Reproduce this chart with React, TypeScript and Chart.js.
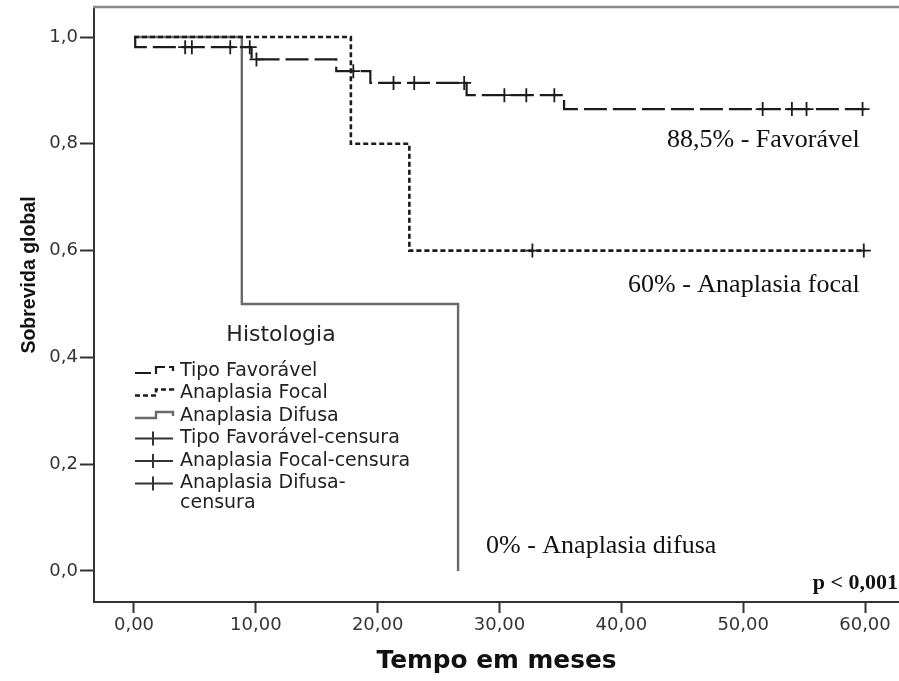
import React, { useEffect, useRef } from 'react';
import { Chart, registerables } from 'chart.js';

Chart.register(...registerables);

// ---- Data ----
const favoravelTimes = [0, 0.1, 9.65, 16.6, 19.4, 27.3, 35.3, 60];
const favoravelSurv = [1.0, 0.981, 0.958, 0.936, 0.914, 0.891, 0.865, 0.865];

const focalTimes = [0, 17.8, 22.6, 60];
const focalSurv = [1.0, 0.8, 0.6, 0.6];

const difusaTimes = [0, 8.85, 26.6];
const difusaSurv = [1.0, 0.5, 0.0];

const favoravelCensorTimes = [4.2, 4.75, 7.9, 9.5, 10.05, 18.0, 21.3, 23.0, 27.1, 30.4, 32.2, 34.5, 51.6, 54.0, 55.2, 59.8];
const favoravelCensorSurv = [0.981, 0.981, 0.981, 0.981, 0.958, 0.936, 0.914, 0.914, 0.914, 0.891, 0.891, 0.891, 0.865, 0.865, 0.865, 0.865];

const focalCensorTimes = [32.7, 59.9];
const focalCensorSurv = [0.6, 0.6];

const difusaCensorTimes: number[] = [];
const difusaCensorSurv: number[] = [];

const xTickValues = [0, 10, 20, 30, 40, 50, 60];
const xTickLabels = ['0,00', '10,00', '20,00', '30,00', '40,00', '50,00', '60,00'];
const yTickValues = [0, 0.2, 0.4, 0.6, 0.8, 1.0];
const yTickLabels = ['0,0', '0,2', '0,4', '0,6', '0,8', '1,0'];

const xTitle = 'Tempo em meses';
const yTitle = 'Sobrevida global';
const legendTitle = 'Histologia';
const legendLabels: (string | string[])[] = [
  'Tipo Favorável',
  'Anaplasia Focal',
  'Anaplasia Difusa',
  'Tipo Favorável-censura',
  'Anaplasia Focal-censura',
  ['Anaplasia Difusa-', 'censura'],
];
const annotationTexts = ['88,5% - Favorável', '60% - Anaplasia focal', '0% - Anaplasia difusa'];
const pValueText = 'p < 0,001';

const toXY = (xs: number[], ys: number[]) => xs.map((x, i) => ({ x, y: ys[i] }));

const DARK = '#1c1c1c';
const GRAY = '#6a6a6a';
const AXIS = '#333333';

const overlayPlugin = {
  id: 'kmOverlay',
  afterDraw(chart: any) {
    const { ctx, chartArea } = chart;
    ctx.save();

    // top frame line
    ctx.strokeStyle = '#8a8a8a';
    ctx.lineWidth = 2.5;
    ctx.beginPath();
    ctx.moveTo(chartArea.left - 1, chartArea.top);
    ctx.lineTo(chartArea.right, chartArea.top);
    ctx.stroke();

    // y axis title
    ctx.save();
    ctx.translate(30, 275);
    ctx.rotate(-Math.PI / 2);
    ctx.fillStyle = '#111';
    ctx.font = 'bold 19.5px "Liberation Sans", Arial, sans-serif';
    ctx.textAlign = 'center';
    ctx.textBaseline = 'middle';
    ctx.fillText(yTitle, 0, 0);
    ctx.restore();

    // annotations
    ctx.fillStyle = '#111';
    ctx.textAlign = 'left';
    ctx.textBaseline = 'alphabetic';
    ctx.font = '26px "Liberation Serif", "Times New Roman", serif';
    ctx.fillText(annotationTexts[0], 667, 147);
    ctx.fillText(annotationTexts[1], 628, 292);
    ctx.fillText(annotationTexts[2], 486, 553);
    ctx.font = 'bold 22px "Liberation Serif", "Times New Roman", serif';
    ctx.textAlign = 'right';
    ctx.fillText(pValueText, 898, 589);

    // legend
    ctx.textAlign = 'center';
    ctx.textBaseline = 'middle';
    ctx.fillStyle = '#222';
    ctx.font = '22px "DejaVu Sans", sans-serif';
    ctx.fillText(legendTitle, 281, 335);

    const ds = chart.data.datasets;
    const x0 = 135;
    const x1 = 173;
    const textX = 180;
    const rowY = [371, 393.5, 416, 438.5, 461, 483.5];
    ctx.font = '19px "DejaVu Sans", sans-serif';
    for (let i = 0; i < legendLabels.length; i++) {
      const cy = rowY[i];
      const d = ds[i];
      ctx.save();
      if (i < 3) {
        ctx.strokeStyle = d.borderColor;
        ctx.lineWidth = d.borderWidth;
        ctx.setLineDash(i === 0 ? [16, 4] : d.borderDash || []);
        ctx.beginPath();
        ctx.moveTo(x0, cy + 2);
        ctx.lineTo(x0 + 21, cy + 2);
        ctx.lineTo(x0 + 21, cy - 4);
        ctx.lineTo(x1, cy - 4);
        ctx.lineTo(x1, cy);
        ctx.stroke();
      } else {
        ctx.strokeStyle = '#333';
        ctx.lineWidth = 2;
        ctx.beginPath();
        ctx.moveTo(x0, cy);
        ctx.lineTo(x1, cy);
        ctx.moveTo(153, cy - 7);
        ctx.lineTo(153, cy + 7);
        ctx.stroke();
      }
      ctx.restore();
      ctx.fillStyle = '#222';
      ctx.textAlign = 'left';
      ctx.textBaseline = 'middle';
      const lab = legendLabels[i];
      if (Array.isArray(lab)) {
        lab.forEach((t, k) => ctx.fillText(t, textX, cy + k * 20));
      } else {
        ctx.fillText(lab, textX, cy);
      }
    }

    ctx.restore();
  },
};

const zeroPadding = (axis: any) => {
  axis.paddingLeft = 0;
  axis.paddingRight = 0;
  axis.paddingTop = 0;
  axis.paddingBottom = 0;
};

export default function App() {
  const canvasRef = useRef<HTMLCanvasElement | null>(null);

  useEffect(() => {
    if (!canvasRef.current) return;
    const lineBase = { pointRadius: 0, fill: false, tension: 0, stepped: 'before' as const };
    const censorBase = {
      showLine: false,
      pointStyle: 'cross' as const,
      pointRadius: 7,
      pointHoverRadius: 7,
      pointBorderWidth: 1.8,
      pointBorderColor: DARK,
      borderColor: DARK,
      backgroundColor: DARK,
    };
    const chart = new Chart(canvasRef.current, {
      type: 'line',
      data: {
        datasets: [
          { ...lineBase, label: 'Tipo Favorável', data: toXY(favoravelTimes, favoravelSurv), borderColor: DARK, borderWidth: 2.2, borderDash: [23, 6] },
          { ...lineBase, label: 'Anaplasia Focal', data: toXY(focalTimes, focalSurv), borderColor: DARK, borderWidth: 2.6, borderDash: [5, 3] },
          { ...lineBase, label: 'Anaplasia Difusa', data: toXY(difusaTimes, difusaSurv), borderColor: GRAY, borderWidth: 2.4 },
          { ...censorBase, label: 'Tipo Favorável-censura', data: toXY(favoravelCensorTimes, favoravelCensorSurv) },
          { ...censorBase, label: 'Anaplasia Focal-censura', data: toXY(focalCensorTimes, focalCensorSurv) },
          { ...censorBase, label: 'Anaplasia Difusa-censura', data: toXY(difusaCensorTimes, difusaCensorSurv) },
        ] as any,
      },
      options: {
        responsive: false,
        animation: false,
        devicePixelRatio: 1,
        layout: { autoPadding: false, padding: { top: 7, left: 0, right: 0, bottom: 0 } },
        plugins: { legend: { display: false }, tooltip: { enabled: false } },
        events: [],
        scales: {
          x: {
            type: 'linear',
            min: -3.283,
            max: 62.79,
            afterBuildTicks: (axis: any) => {
              axis.ticks = xTickValues.map((v) => ({ value: v }));
            },
            afterFit: (axis: any) => {
              axis.height = 79;
              zeroPadding(axis);
            },
            grid: { drawOnChartArea: false, drawTicks: true, tickLength: 11, tickWidth: 2, tickColor: AXIS },
            border: { display: true, color: AXIS, width: 2 },
            ticks: {
              color: '#333',
              font: { family: '"DejaVu Sans", sans-serif', size: 18 },
              padding: 2,
              maxRotation: 0,
              autoSkip: false,
              callback: (v: any) => xTickLabels[xTickValues.indexOf(Number(v))] ?? '',
            },
            title: {
              display: true,
              text: xTitle,
              color: '#111',
              font: { family: '"DejaVu Sans", sans-serif', weight: 'bold', size: 24.8, lineHeight: 1.2 },
              padding: { top: 0, bottom: 5 },
            },
          },
          y: {
            type: 'linear',
            min: -0.0581,
            max: 1.0562,
            afterBuildTicks: (axis: any) => {
              axis.ticks = yTickValues.map((v) => ({ value: v }));
            },
            afterFit: (axis: any) => {
              axis.width = 94;
              zeroPadding(axis);
            },
            grid: { drawOnChartArea: false, drawTicks: true, tickLength: 14, tickWidth: 2, tickColor: AXIS },
            border: { display: true, color: AXIS, width: 2 },
            ticks: {
              color: '#333',
              font: { family: '"DejaVu Sans", sans-serif', size: 18 },
              padding: 2,
              autoSkip: false,
              callback: (v: any) => {
                const idx = yTickValues.findIndex((t) => Math.abs(t - Number(v)) < 1e-6);
                return idx >= 0 ? yTickLabels[idx] : '';
              },
            },
          },
        },
      } as any,
      plugins: [overlayPlugin],
    });
    return () => chart.destroy();
  }, []);

  return (
    <div style={{ position: 'fixed', left: 0, top: 0, width: 899, height: 681, background: '#fff' }}>
      <canvas ref={canvasRef} width={899} height={681} style={{ display: 'block', width: 899, height: 681 }} />
    </div>
  );
}
